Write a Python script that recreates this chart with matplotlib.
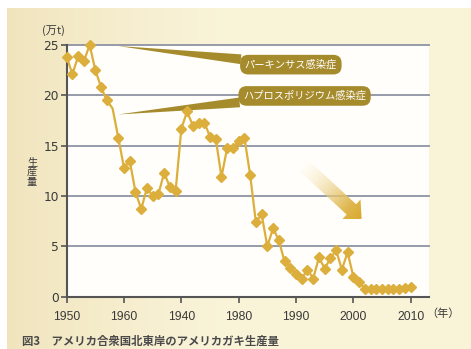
import numpy as np
import matplotlib.pyplot as plt
from matplotlib.patches import Polygon

plt.rcParams['font.family'] = ['Liberation Sans', 'Noto Sans CJK JP']

# 生産量（万t）
years = [1950, 1951, 1952, 1953, 1954, 1955, 1956, 1957, 1958, 1959,
         1960, 1961, 1962, 1963, 1964, 1965, 1966, 1967, 1968, 1969,
         1970, 1971, 1972, 1973, 1974, 1975, 1976, 1977, 1978, 1979,
         1980, 1981, 1982, 1983, 1984, 1985, 1986, 1987, 1988, 1989,
         1990, 1991, 1992, 1993, 1994, 1995, 1996, 1997, 1998, 1999,
         2000, 2001, 2002, 2003, 2004, 2005, 2006, 2007, 2008, 2009, 2010]
production = [23.8, 22.1, 23.9, 23.4, 25.0, 22.5, 20.8, 19.5, 18.7, 15.8,
              12.8, 13.5, 10.4, 8.7, 10.8, 10.0, 10.2, 12.3, 10.9, 10.5,
              16.7, 18.4, 17.0, 17.3, 17.3, 15.9, 15.7, 11.9, 14.8, 14.8,
              15.5, 15.8, 12.1, 7.4, 8.2, 5.0, 6.8, 5.6, 3.5, 2.9,
              2.3, 1.8, 2.7, 1.8, 3.9, 2.8, 3.8, 4.6, 2.7, 4.4,
              2.0, 1.5, 0.8, 0.8, 0.8, 0.8, 0.8, 0.8, 0.8, 0.9, 1.0]
no_marker_years = [1958]

x_ticks = [1950, 1960, 1970, 1980, 1990, 2000, 2010]
x_tick_labels = ['1950', '1960', '1940', '1980', '1990', '2000', '2010']
y_ticks = [0, 5, 10, 15, 20, 25]

disease_labels = ['パーキンサス感染症', 'ハプロスポリジウム感染症']
disease_tips = [(1958.95, 24.9), (1959.0, 18.1)]
disease_boxes = [(1989.1, 23.05), (1991.5, 19.94)]

gold = '#dcae3c'
olive = '#a68b2c'
grid_c = '#8d93a3'
axis_c = '#555555'
text_c = '#3a3a3a'

W, H = 471, 349
fig = plt.figure(figsize=(W / 100, H / 100), dpi=100)
fig.patch.set_facecolor('white')

# cream panel behind the chart, a bit darker on the left
bg = fig.add_axes([7 / W, 0, 1 - 7 / W, 1 - 8 / H])
bg.axis('off')
t = np.linspace(0, 1, 400)
ramp = np.clip(t / 0.45, 0, 1) ** 0.8
left_c = np.array([0.941, 0.894, 0.737])
right_c = np.array([0.978, 0.953, 0.850])
row = left_c[None, :] * (1 - ramp[:, None]) + right_c[None, :] * ramp[:, None]
bg.imshow(row[None, :, :], extent=[0, 1, 0, 1], aspect='auto')

ax = fig.add_axes([66.7 / W, 1 - 296.7 / H, (429 - 66.7) / W, (296.7 - 45) / H])
ax.set_facecolor('#fffefa')
ax.set_xlim(1950, 2013.2)
ax.set_ylim(0, 25)

for y in y_ticks[1:]:
    ax.axhline(y, color=grid_c, lw=1.3, zorder=1, clip_on=False)

for side in ['top', 'right']:
    ax.spines[side].set_visible(False)
for side in ['left', 'bottom']:
    ax.spines[side].set_color(axis_c)
    ax.spines[side].set_linewidth(1.5)
    ax.spines[side].set_zorder(2)

ax.set_xticks(x_ticks)
ax.set_xticklabels(x_tick_labels)
ax.set_yticks(y_ticks)
ax.tick_params(axis='x', direction='out', length=4, width=1.2, color=axis_c,
               pad=6, labelsize=8.7, labelcolor=text_c)
ax.tick_params(axis='y', direction='out', length=4, width=1.2, color=axis_c,
               pad=1.5, labelsize=8.8, labelcolor=text_c)
for lab in ax.get_yticklabels():
    lab.set_family('DejaVu Sans')

# 生産量の推移
marks = [i for i, yr in enumerate(years) if yr not in no_marker_years]
ax.plot(years, production, color=gold, lw=1.6, marker='D', ms=5.6,
        markevery=marks, mfc=gold, mec=gold, zorder=4, clip_on=False)

# 感染症のラベル
for label, tip, box in zip(disease_labels, disease_tips, disease_boxes):
    ax.annotate(label, xy=tip, xytext=box, ha='center', va='center',
                color='white', fontsize=7.4, family=['Noto Sans CJK JP'],
                bbox=dict(boxstyle='round,pad=0.45,rounding_size=0.8',
                          fc=olive, ec='none'),
                arrowprops=dict(arrowstyle='wedge,tail_width=0.95,shrink_factor=0.5',
                                fc=olive, ec='none', shrinkA=0, shrinkB=0),
                annotation_clip=False, zorder=3)

# 減少を示すグラデーションの矢印
p0 = ax.transData.transform((1991.24, 13.1))
p1 = ax.transData.transform((2001.45, 7.73))
vec = p1 - p0
L = np.hypot(*vec)
u = vec / L
n = np.array([-u[1], u[0]])
shaft_w, head_w, head_l = 14, 27, 14
base = p1 - u * head_l
pts = np.array([p0 + n * shaft_w / 2, base + n * shaft_w / 2, base + n * head_w / 2,
                p1, base - n * head_w / 2, base - n * shaft_w / 2, p0 - n * shaft_w / 2])
inv = ax.transData.inverted()
arrow = Polygon(inv.transform(pts), closed=True, fc='none', ec='none')
ax.add_patch(arrow)

xs = np.linspace(pts[:, 0].min(), pts[:, 0].max(), 120)
ys = np.linspace(pts[:, 1].min(), pts[:, 1].max(), 120)
X, Y = np.meshgrid(xs, ys)
s = np.clip(((X - p0[0]) * u[0] + (Y - p0[1]) * u[1]) / L, 0, 1)
img = np.zeros(X.shape + (4,))
tail_rgb = np.array([0.98, 0.93, 0.78])
head_rgb = np.array([0.85, 0.66, 0.18])
img[..., :3] = tail_rgb * (1 - s[..., None]) + head_rgb * s[..., None]
img[..., 3] = np.clip(s * 1.3, 0, 1) ** 0.9
lo = inv.transform((xs[0], ys[0]))
hi = inv.transform((xs[-1], ys[-1]))
im = ax.imshow(img, extent=[lo[0], hi[0], lo[1], hi[1]], origin='lower',
               aspect='auto', interpolation='bilinear', zorder=2)
im.set_clip_path(arrow)
ax.set_xlim(1950, 2013.2)
ax.set_ylim(0, 25)

# 単位と軸の見出し
fig.text(53 / W, 1 - 31 / H, '(万t)', ha='center', va='center', fontsize=8,
         color=text_c, family=['Noto Sans CJK JP'])
fig.text(32 / W, 1 - 172 / H, '生\n産\n量', ha='center', va='center', fontsize=7.3,
         color=text_c, family=['Noto Sans CJK JP'], linespacing=1.0)
fig.text(443 / W, 1 - 314 / H, '（年）', ha='center', va='center', fontsize=8,
         color=text_c, family=['Noto Sans CJK JP'])
fig.text(22 / W, 1 - 341 / H, '図3　アメリカ合衆国北東岸のアメリカガキ生産量',
         ha='left', va='center', fontsize=8.2, color='#4a4a4a',
         family=['Noto Sans CJK JP'], fontweight='bold')

fig.savefig('out.png', dpi=100)
